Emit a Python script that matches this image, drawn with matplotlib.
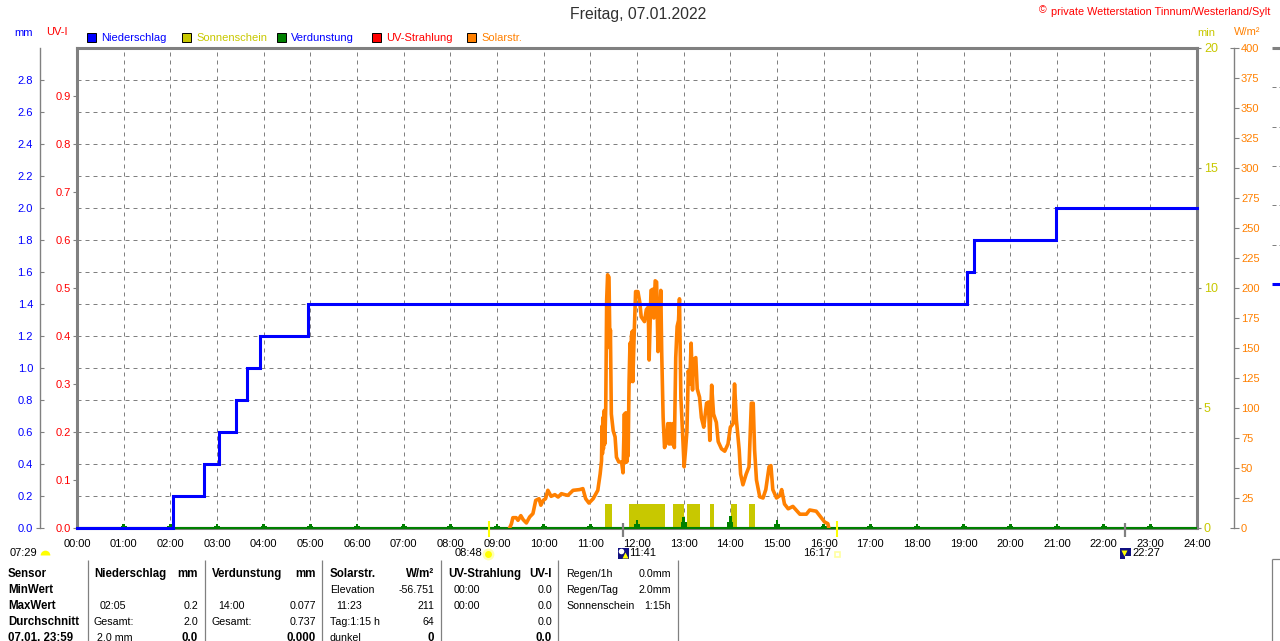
import matplotlib
matplotlib.use("Agg")
import matplotlib.pyplot as plt
from matplotlib.lines import Line2D
from matplotlib.patches import Rectangle

plt.rcParams['font.family'] = ['Liberation Sans', 'DejaVu Sans']
W, H = 1280, 641
FS = 8.0

rain_hours = [0, 2.02, 2.05, 2.72, 3.04, 3.41, 3.64, 3.92, 4.95, 19.07, 19.22, 20.98, 24]
rain_mm = [0, 0, 0.2, 0.4, 0.6, 0.8, 1.0, 1.2, 1.4, 1.6, 1.8, 2.0, 2.0]

solar_hours = [9.27,9.31,9.34,9.41,9.45,9.51,9.56,9.63,9.70,9.77,9.83,9.90,9.94,9.99,10.04,10.09,10.16,10.24,10.31,10.38,
 10.45,10.52,10.63,10.77,10.84,10.90,10.97,11.06,11.16,11.21,11.24,11.25,11.26,11.27,11.28,11.30,11.31,11.33,11.35,11.37,11.40,11.42,11.43,11.45,11.49,
 11.53,11.56,11.61,11.67,11.70,11.73,11.75,11.76,11.78,11.80,11.81,11.83,11.85,11.86,11.88,11.90,11.91,11.93,11.94,11.97,12.02,12.06,12.09,12.16,12.20,12.24,
 12.26,12.30,12.34,12.36,12.39,12.42,12.45,12.48,12.51,12.53,12.56,12.59,12.63,12.66,12.69,12.71,12.74,12.77,12.80,12.83,
 12.86,12.89,12.91,12.94,12.99,13.01,13.04,13.07,13.10,13.13,13.16,13.19,13.21,13.26,13.29,13.34,13.38,13.43,13.49,13.53,
 13.56,13.60,13.64,13.70,13.74,13.81,13.88,13.95,14.00,14.06,14.09,14.13,14.19,14.22,14.27,14.34,14.40,14.45,14.49,14.52,
 14.56,14.63,14.70,14.76,14.83,14.87,14.91,14.99,15.06,15.10,15.16,15.24,15.34,15.41,15.49,15.63,15.70,15.84,15.91,16.02,
 16.09,16.11]
solar_wm2 = [0,3.6,8.6,8.6,6.4,10.3,7,4.2,9.2,12,23,24.4,19,23,24.4,31.4,26.4,27.8,25.8,28.6,
 27.8,27.2,31.4,32,32.8,24.4,20.8,24.4,31.4,45,56,85,62,92,66,98,70,100,190,211,209,150,165,95,81,
 76,59,55,55,46,95,55,96,55,92,60,122,154,122,160,164,122,150,162,197,197,188,176,172,182,184,
 140,198,199,175,206,205,147,168,198,145,92,67,72,87,70,87,70,87,67,142,
 168,173,191,109,67,51,65,81,131,120,154,115,140,142,116,109,92,84,104,105,
 73,119,95,88,72,66,64,70,84,87,120,90,65,45,36,45,51,104,104,65,
 40,26,25,32,51,52,32,25,27,32,20,16,18,15,11.5,11.5,15,14,10.5,5,
 3.6,0]

sun_start = [11.31, 11.83, 12.77, 13.07, 13.56, 14.01, 14.39]
sun_end = [11.47, 12.59, 13.00, 13.34, 13.64, 14.14, 14.52]
sun_minutes = [1, 1, 1, 1, 1, 1, 1]

evap_hours = list(range(1, 24))
evap_mm = [0.025,0.025,0.025,0.025,0.025,0.025,0.025,0.025,0.025,0.025,0.025,0.05,0.07,0.077,0.05,0.027,
           0.025,0.025,0.025,0.025,0.025,0.025,0.025]

mm_ticks = [0.0,0.2,0.4,0.6,0.8,1.0,1.2,1.4,1.6,1.8,2.0,2.2,2.4,2.6,2.8]
uv_ticks = [0.0,0.1,0.2,0.3,0.4,0.5,0.6,0.7,0.8,0.9]
min_ticks = [0,5,10,15,20]
wm2_ticks = list(range(0, 401, 25))
hour_labels = [f"{h:02d}:00" for h in range(25)]

legend_items = [("Niederschlag", "#0000ff", "#0000ff", 87, 101), ("Sonnenschein", "#c8c800", "#c8c800", 182, 196),
                ("Verdunstung", "#008000", "#0000ff", 277, 291), ("UV-Strahlung", "#ff0000", "#ff0000", 372, 386),
                ("Solarstr.", "#ff8000", "#ff8000", 467, 481)]

table_cols = [
    [(8,'l',"Sensor",True),(8,'l',"MinWert",True),(8,'l',"MaxWert",True),(8,'l',"Durchschnitt",True),(8,'l',"07.01. 23:59",True)],
    [(94,'l',"Niederschlag",True),None,(100,'l',"02:05",False),(94,'l',"Gesamt:",False),(97,'l',"2.0 mm",False)],
    [(198,'r',"mm",True),None,(198,'r',"0.2",False),(198,'r',"2.0",False),(198,'r',"0.0",True)],
    [(212,'l',"Verdunstung",True),None,(218,'l',"14:00",False),(212,'l',"Gesamt:",False),None],
    [(316,'r',"mm",True),None,(316,'r',"0.077",False),(316,'r',"0.737",False),(316,'r',"0.000",True)],
    [(330,'l',"Solarstr.",True),(330,'l',"Elevation",False),(336,'l',"11:23",False),(330,'l',"Tag:1:15 h",False),(330,'l',"dunkel",False)],
    [(434,'r',"W/m²",True),(434,'r',"-56.751",False),(434,'r',"211",False),(434,'r',"64",False),(434,'r',"0",True)],
    [(448,'l',"UV-Strahlung",True),(454,'l',"00:00",False),(454,'l',"00:00",False),None,None],
    [(552,'r',"UV-I",True),(552,'r',"0.0",False),(552,'r',"0.0",False),(552,'r',"0.0",False),(552,'r',"0.0",True)],
    [(566,'l',"Regen/1h",False),(566,'l',"Regen/Tag",False),(566,'l',"Sonnenschein",False),None,None],
    [(671,'r',"0.0mm",False),(671,'r',"2.0mm",False),(671,'r',"1:15h",False),None,None],
]
table_rows = [574, 590, 606, 622, 638]
table_seps = [88, 205, 322, 441, 558, 678]
neighbour_grid_y = [87, 127, 166, 205, 245]

fig = plt.figure(figsize=(W/100, H/100), dpi=100, facecolor='white')
def fx(x): return x / W
def fy(y): return 1 - y / H
GR = '#808080'

ax = fig.add_axes([fx(77), fy(528), 1120/W, 480/H])
ax.set_facecolor('none')
ax.set_xlim(0, 24); ax.set_ylim(0, 3.0)
ax.set_xticks(range(25)); ax.set_xticklabels(hour_labels)
ax.set_yticks(mm_ticks); ax.set_yticklabels([f"{v:.1f}" for v in mm_ticks])
ax.grid(True, color=GR, linestyle=(0, (4, 4)), linewidth=0.72)
ax.set_axisbelow(True)
ax.tick_params(axis='x', length=0, pad=8, labelsize=FS, labelcolor='black')
ax.tick_params(axis='y', direction='in', length=3, color=GR, pad=5, width=0.8, labelsize=FS, labelcolor='#0000ff')
for s in ('top', 'right', 'bottom'):
    ax.spines[s].set_visible(False)
ax.spines['left'].set_position(('outward', 37*0.72))
ax.spines['left'].set_color(GR); ax.spines['left'].set_linewidth(1.0)

ax_uv = ax.twinx()
ax_uv.yaxis.tick_left()
ax_uv.set_ylim(0, 1.0)
ax_uv.set_yticks(uv_ticks); ax_uv.set_yticklabels([f"{v:.1f}" for v in uv_ticks])
ax_uv.tick_params(axis='y', direction='out', length=3, color=GR, pad=1.5, width=0.8, labelsize=FS, labelcolor='#ff0000')
for s in ax_uv.spines.values():
    s.set_color(GR); s.set_linewidth(2.2)

ax_min = ax.twinx()
ax_min.set_ylim(0, 20)
ax_min.set_yticks(min_ticks); ax_min.set_yticklabels([str(v) for v in min_ticks])
ax_min.tick_params(axis='y', direction='out', length=3, color=GR, pad=2, width=0.8, labelsize=FS+1, labelcolor='#c8c800')
for s in ax_min.spines.values():
    s.set_visible(False)

ax_w = ax.twinx()
ax_w.set_ylim(0, 400)
ax_w.set_yticks(wm2_ticks); ax_w.set_yticklabels([str(v) for v in wm2_ticks])
ax_w.tick_params(axis='y', direction='out', length=3.5, color=GR, pad=1.5, width=0.8, labelsize=FS, labelcolor='#ff8000')
for s in ('top', 'left', 'bottom'):
    ax_w.spines[s].set_visible(False)
ax_w.spines['right'].set_position(('outward', 37*0.72))
ax_w.spines['right'].set_color(GR); ax_w.spines['right'].set_linewidth(1.0)

# sunshine
ax_min.bar(sun_start, sun_minutes, width=[e - s for s, e in zip(sun_start, sun_end)],
           align='edge', color='#c8c800', linewidth=0, zorder=2)
# evaporation
ax_e = ax.twinx(); ax_e.set_ylim(0, 3.0); ax_e.axis('off')
ax_e.bar(evap_hours, evap_mm, width=3.5/60, color='#008000', linewidth=0, zorder=3)
ax_e.bar(evap_hours, [v*0.5 for v in evap_mm], width=8/60, color='#008000', linewidth=0, zorder=3)
ax_e.plot([0, 24], [0, 0], color='#008000', lw=1.5, zorder=3, clip_on=False, solid_capstyle='butt')
# solar
ax_e.plot(solar_hours, [v*3.0/400 for v in solar_wm2], color='#ff8000', lw=2.6, zorder=4, solid_joinstyle='round')
# rain
ax_e.step(rain_hours, rain_mm, where='post', color='#0000ff', lw=2.2, zorder=5, solid_joinstyle='miter', clip_on=False)

def T(x, y, s, ha='left', color='black', size=FS, weight='normal', va='center', **kw):
    fig.text(fx(x), fy(y), s, ha=ha, va=va, color=color, fontsize=size, fontweight=weight, **kw)
def L(xs, ys, color=GR, lw=0.8, **kw):
    fig.add_artist(Line2D([fx(x) for x in xs], [fy(y) for y in ys], color=color, lw=lw, solid_capstyle='butt', **kw))
def R(x, y, w, h, fc, ec='none', lw=0.7):
    fig.add_artist(Rectangle((fx(x), fy(y+h)), w/W, h/H, transform=fig.transFigure, fc=fc, ec=ec, lw=lw))
def M(x, y, marker, size, fc, ec='none', **kw):
    fig.add_artist(Line2D([fx(x)], [fy(y)], marker=marker, markersize=size, markerfacecolor=fc,
                          markeredgecolor=ec, linestyle='none', **kw))

T(638, 15, "Freitag, 07.01.2022", ha='center', size=11.3, color='#303030')
T(1039, 10, "©", size=7.5, color='#ff0000')
T(1051, 12, "private Wetterstation Tinnum/Westerland/Sylt", size=7.87, color='#ff0000')
T(14, 33, "mm", color='#0000ff'); T(46, 32, "UV-I", color='#ff0000')
T(1197, 33, "min", color='#c8c800'); T(1234, 32, "W/m²", color='#ff8000')
for name, fc, tc, bx, tx in legend_items:
    R(bx, 33, 9, 9, fc, ec='black')
    T(tx, 38, name, color=tc)

# extended ticks at the axis ends
L([36, 40], [528, 528], GR, 0.8)
L([1230, 1234], [48, 48], GR, 0.8)
L([1230, 1234], [528, 528], GR, 0.8)

# sunrise/sunset ticks and labels
L([488.5, 488.5], [521, 537], '#ffff00', 1.5)
L([837, 837], [521, 537], '#ffff00', 1.5)
L([622.5, 622.5], [523, 537], GR, 1.6)
L([1125, 1125], [523, 537], GR, 1.6)
T(10, 553, "07:29"); T(455, 553, "08:48"); T(629, 553, "11:41"); T(803, 553, "16:17"); T(1132, 553, "22:27")
M(44.5, 555, 'o', 7, '#ffff00', fillstyle='top', markerfacecoloralt='none')
M(488, 553.5, 'o', 8.5, '#ffffb0')
M(488, 553.5, 'o', 5, '#ffff00')
R(834.5, 551.5, 5.5, 5.5, 'none', ec='#ffffa0', lw=1.2)
R(618, 548, 11, 11, '#101080')
M(620.5, 550.5, 'o', 4, 'white')
M(625, 555, '^', 5, '#ffff00')
R(1120, 548, 11, 11, '#101080')
R(1125, 556, 6, 3, 'white')
M(1123.5, 552.5, 'v', 5, '#ffff00')

# table
for col in table_cols:
    for row_y, cell in zip(table_rows, col):
        if cell is None:
            continue
        x, a, s, b = cell
        T(x, row_y, s, ha='left' if a == 'l' else 'right', weight='bold' if b else 'normal', size=8.3 if b else 7.7)
for x in table_seps:
    L([x, x], [560, 641], GR, 0.9)

# fragment of neighbouring chart at the right edge
L([1272, 1280], [48, 48], GR, 2.2)
L([1272, 1280], [284, 284], '#0000ff', 2.2)
for gy in neighbour_grid_y:
    L([1272, 1276], [gy, gy], GR, 0.72)
    L([1279, 1280], [gy, gy], GR, 0.72)
L([1272, 1280], [559, 559], GR, 0.9)
L([1272, 1272], [559, 641], GR, 0.9)

fig.savefig("out.png", dpi=100)
